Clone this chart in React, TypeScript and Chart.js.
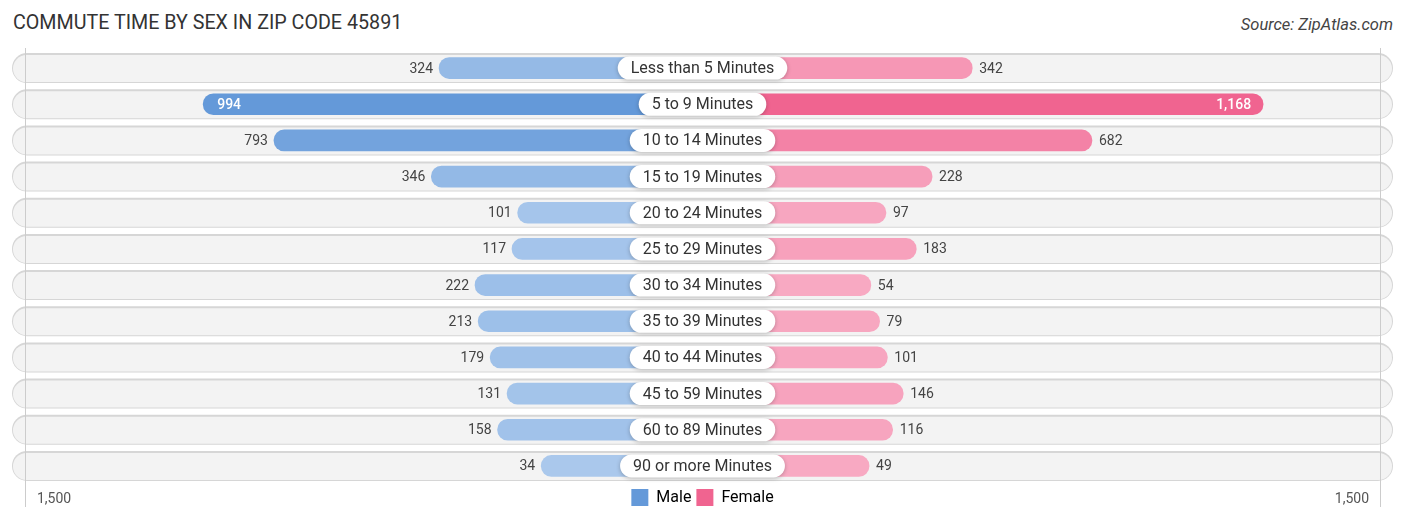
import React, { useEffect, useRef } from 'react';
import { Chart, registerables } from 'chart.js';

Chart.register(...registerables);

const CATEGORIES = [
  'Less than 5 Minutes',
  '5 to 9 Minutes',
  '10 to 14 Minutes',
  '15 to 19 Minutes',
  '20 to 24 Minutes',
  '25 to 29 Minutes',
  '30 to 34 Minutes',
  '35 to 39 Minutes',
  '40 to 44 Minutes',
  '45 to 59 Minutes',
  '60 to 89 Minutes',
  '90 or more Minutes',
];
const MALE = [324, 994, 793, 346, 101, 117, 222, 213, 179, 131, 158, 34];
const FEMALE = [342, 1168, 682, 228, 97, 183, 54, 79, 101, 146, 116, 49];
const AXIS_MAX = 1500;
const AXIS_LABEL = '1,500';

// bars keep running under the centre label, this is how far (in data units)
const GAP = 424;

const MALE_DARK = [100, 153, 217];
const MALE_LIGHT = [172, 202, 237];
const FEMALE_DARK = [240, 100, 144];
const FEMALE_LIGHT = [248, 172, 196];

const mix = (light: number[], dark: number[], t: number) =>
  `rgb(${light.map((c, i) => Math.round(c + (dark[i] - c) * t)).join(',')})`;

const shades = (values: number[], light: number[], dark: number[]) => {
  const max = Math.max(...values);
  return values.map((v) => mix(light, dark, v / max));
};

const FONT = 'Roboto';

const decor = {
  id: 'decor',
  beforeDatasetsDraw(chart: any) {
    const { ctx, chartArea, scales } = chart;
    const { x, y } = scales;
    const rowH = 30;
    ctx.save();
    // row backgrounds: grey pill with a darker top edge
    CATEGORIES.forEach((_, i) => {
      const cy = y.getPixelForValue(i);
      const left = chartArea.left - 13;
      const right = chartArea.right + 13;
      const top = cy - rowH / 2;
      ctx.fillStyle = '#d6d6d6';
      ctx.beginPath();
      ctx.roundRect(left, top, right - left, rowH, rowH / 2);
      ctx.fill();
      ctx.fillStyle = '#f3f3f3';
      ctx.beginPath();
      ctx.roundRect(left + 1, top + 2, right - left - 2, rowH - 3, (rowH - 3) / 2);
      ctx.fill();
    });
    // grid lines at the axis ends
    ctx.strokeStyle = '#cccccc';
    ctx.lineWidth = 1;
    [x.min, x.max].forEach((v: number) => {
      const px = Math.round(x.getPixelForValue(v)) + 0.5;
      ctx.beginPath();
      ctx.moveTo(px, chartArea.top - 2);
      ctx.lineTo(px, chartArea.bottom + 23);
      ctx.stroke();
    });
    // axis labels
    ctx.fillStyle = '#555';
    ctx.font = `14px ${FONT}`;
    ctx.textBaseline = 'middle';
    ctx.textAlign = 'left';
    ctx.fillText(AXIS_LABEL, chartArea.left + 12, chartArea.bottom + 15);
    ctx.textAlign = 'right';
    ctx.fillText(AXIS_LABEL, chartArea.right - 11, chartArea.bottom + 15);
    ctx.restore();
  },
  afterDatasetsDraw(chart: any) {
    const { ctx, scales } = chart;
    const { x, y } = scales;
    const cx = x.getPixelForValue(0);
    ctx.save();
    ctx.textBaseline = 'middle';

    // values
    [MALE, FEMALE].forEach((values, d) => {
      const meta = chart.getDatasetMeta(d);
      const max = Math.max(...values);
      meta.data.forEach((bar: any, i: number) => {
        const v = values[i];
        const text = v.toLocaleString('en-US');
        const cy = bar.y + 1;
        if (v === max) {
          ctx.font = `500 14px ${FONT}`;
          ctx.fillStyle = '#fff';
          ctx.textAlign = d === 0 ? 'left' : 'right';
          ctx.fillText(text, d === 0 ? bar.x + 14 : bar.x - 12, cy);
        } else {
          ctx.font = `14px ${FONT}`;
          ctx.fillStyle = '#444';
          ctx.textAlign = d === 0 ? 'right' : 'left';
          ctx.fillText(text, d === 0 ? bar.x - 6 : bar.x + 7, cy);
        }
      });
    });

    // category labels in the middle
    ctx.font = `16px ${FONT}`;
    CATEGORIES.forEach((label, i) => {
      const cy = y.getPixelForValue(i);
      const w = ctx.measureText(label).width + 26;
      const h = 23;
      ctx.shadowColor = 'rgba(0,0,0,0.25)';
      ctx.shadowBlur = 4;
      ctx.shadowOffsetY = 1;
      ctx.fillStyle = '#fff';
      ctx.beginPath();
      ctx.roundRect(cx - w / 2, cy - h / 2, w, h, h / 2);
      ctx.fill();
      ctx.shadowColor = 'transparent';
      ctx.fillStyle = '#333';
      ctx.textAlign = 'center';
      ctx.fillText(label, cx, cy + 1);
    });
    ctx.restore();
  },
};

const CommuteChart: React.FC = () => {
  const chartRef = useRef<HTMLCanvasElement>(null);

  useEffect(() => {
    if (!chartRef.current) return;

    const maleColors = shades(MALE, MALE_LIGHT, MALE_DARK);
    const femaleColors = shades(FEMALE, FEMALE_LIGHT, FEMALE_DARK);
    const maleKey = mix(MALE_LIGHT, MALE_DARK, 1);
    const femaleKey = mix(FEMALE_LIGHT, FEMALE_DARK, 1);

    const chart = new Chart(chartRef.current, {
      type: 'bar',
      data: {
        labels: CATEGORIES,
        datasets: [
          {
            label: 'Male',
            data: MALE.map((v) => -(v + GAP)),
            backgroundColor: maleColors,
            barThickness: 21,
            borderRadius: 11,
            borderSkipped: false,
          },
          {
            label: 'Female',
            data: FEMALE.map((v) => v + GAP),
            backgroundColor: femaleColors,
            barThickness: 21,
            borderRadius: 11,
            borderSkipped: false,
          },
        ],
      },
      options: {
        indexAxis: 'y',
        responsive: true,
        maintainAspectRatio: false,
        animation: false,
        layout: { padding: { top: 50, left: 25, right: 26, bottom: 7 } },
        plugins: {
          tooltip: { enabled: false },
          legend: {
            position: 'bottom',
            labels: {
              boxWidth: 17,
              boxHeight: 17,
              padding: 5,
              useBorderRadius: true,
              borderRadius: 3,
              color: '#333',
              font: { family: FONT, size: 16 },
              generateLabels: () => [
                { text: 'Male', fillStyle: maleKey, strokeStyle: maleKey, lineWidth: 0, datasetIndex: 0 },
                { text: 'Female', fillStyle: femaleKey, strokeStyle: femaleKey, lineWidth: 0, datasetIndex: 1 },
              ],
            },
          },
        },
        scales: {
          x: {
            display: false,
            stacked: true,
            min: -(AXIS_MAX + GAP),
            max: AXIS_MAX + GAP,
          },
          y: {
            display: false,
            stacked: true,
          },
        },
      },
      plugins: [decor],
    });

    return () => chart.destroy();
  }, []);

  return (
    <div style={{ position: 'fixed', left: 0, top: 0, width: 1406, height: 523, background: '#fff' }}>
      <div
        style={{
          position: 'absolute',
          left: 13,
          top: 11,
          fontFamily: FONT,
          fontSize: 19.7,
          color: '#333',
          whiteSpace: 'nowrap',
        }}
      >
        COMMUTE TIME BY SEX IN ZIP CODE 45891
      </div>
      <div
        style={{
          position: 'absolute',
          right: 13,
          top: 15,
          fontFamily: FONT,
          fontSize: 16.5,
          fontStyle: 'italic',
          color: '#444',
          whiteSpace: 'nowrap',
        }}
      >
        Source: ZipAtlas.com
      </div>
      <div style={{ position: 'absolute', left: 0, top: 0, width: 1406, height: 523 }}>
        <canvas ref={chartRef}></canvas>
      </div>
    </div>
  );
};

export default function App() {
  return <CommuteChart />;
}
